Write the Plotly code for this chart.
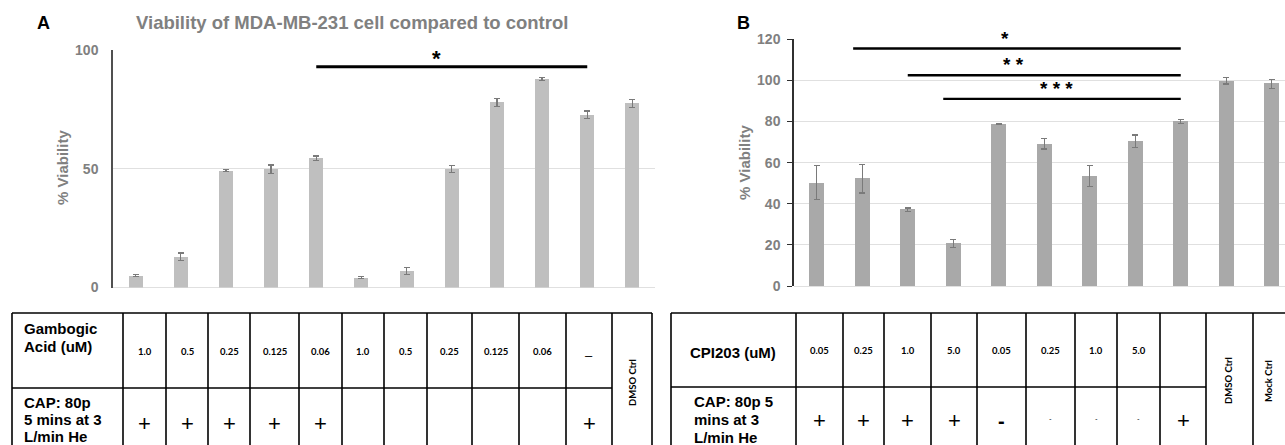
import plotly.graph_objects as go

W, H = 1285, 445

# ---------------- data ----------------
ga_conc = ["1.0", "0.5", "0.25", "0.125", "0.06", "1.0", "0.5", "0.25", "0.125", "0.06", "–"]
ga_cap = ["+", "+", "+", "+", "+", "", "", "", "", "", "+"]
ga_ctrl = ["DMSO Ctrl"]
viab_A = [5.0, 13.0, 49.2, 49.8, 54.4, 4.2, 7.0, 50.0, 78.0, 87.8, 72.8, 77.5]
err_A = [0.5, 1.5, 0.5, 1.8, 1.0, 0.5, 1.5, 1.5, 1.7, 0.5, 1.5, 1.8]

cpi_conc = ["0.05", "0.25", "1.0", "5.0", "0.05", "0.25", "1.0", "5.0", ""]
cpi_cap = ["+", "+", "+", "+", "-", "-", "-", "-", "+"]
cpi_ctrl = ["DMSO Ctrl", "Mock Ctrl"]
viab_B = [50.2, 52.2, 37.1, 20.7, 78.7, 69.1, 53.5, 70.5, 80.0, 99.8, 98.4]
err_B = [8.3, 7.0, 0.8, 2.0, 0.3, 2.5, 5.2, 3.0, 1.1, 1.5, 2.2]

title_A = "Viability of MDA-MB-231 cell compared to control"
y_title = "% Viability"
row_head_A = [["Gambogic", "Acid (uM)"], ["CAP: 80p", "5 mins at 3", "L/min He"]]
row_head_B = [["CPI203 (uM)"], ["CAP: 80p 5", "mins at 3", "L/min He"]]

# significance brackets: (start group, end group, level, label)
sig_A = [(4, 10, 93, "*")]
sig_B = [(0.8, 8, 115.5, "*"), (2, 8, 102.5, "* *"), (2.78, 8, 91, "* * *")]

# ---------------- layout helpers (pixel -> paper) ----------------
def PX(x):
    return x / W

def PY(y):
    return 1 - y / H

SANS = "Liberation Sans, Arial, sans-serif"
SMALL = "Lato, Open Sans, sans-serif"
GREY = "#808080"

# plot-area geometry (pixels)
A_X0, A_X1, A_Y0, A_Y1 = 113, 655, 287.5, 50
B_X0, B_Y0, B_Y1 = 794, 286, 39.3
step_B = 45.5
A_RANGE = [-0.5, 11.5]
B_RANGE = [-0.5, (W - B_X0) / step_B - 0.5]
A_YMAX, B_YMAX = 100, 120

def a_paper(xv, yv):
    px = A_X0 + (xv - A_RANGE[0]) / (A_RANGE[1] - A_RANGE[0]) * (A_X1 - A_X0)
    py = A_Y0 - yv / A_YMAX * (A_Y0 - A_Y1)
    return PX(px), PY(py)

def b_paper(xv, yv):
    px = B_X0 + (xv - B_RANGE[0]) / (B_RANGE[1] - B_RANGE[0]) * (W - B_X0)
    py = B_Y0 - yv / B_YMAX * (B_Y0 - B_Y1)
    return PX(px), PY(py)

fig = go.Figure()

fig.add_trace(go.Bar(
    x=list(range(len(viab_A))), y=viab_A,
    error_y=dict(type="data", array=err_A, color="#7a7a7a", thickness=1.2, width=3),
    marker=dict(color="#BFBFBF", line=dict(width=0)), width=0.31,
    xaxis="x", yaxis="y", showlegend=False, hoverinfo="y"))

fig.add_trace(go.Bar(
    x=list(range(len(viab_B))), y=viab_B,
    error_y=dict(type="data", array=err_B, color="#7a7a7a", thickness=1.2, width=3),
    marker=dict(color="#A9A9A9", line=dict(width=0)), width=0.33,
    xaxis="x2", yaxis="y2", showlegend=False, hoverinfo="y"))

shapes = []
annots = []

# significance bars
for (a, b, lvl, lab) in sig_A:
    shapes.append(dict(type="line", xref="x", yref="y", x0=a, x1=b, y0=lvl, y1=lvl,
                       line=dict(color="black", width=3)))
    sx, sy = a_paper(6.67, lvl + 3.4)
    annots.append(dict(xref="paper", yref="paper", x=sx, y=sy, text="<b>%s</b>" % lab,
                       xanchor="center", yanchor="middle",
                       showarrow=False, font=dict(family=SANS, size=22, color="black")))
star_pos_B = [4.14, 4.33, 5.26]
star_dy_B = [5.0, 5.0, 5.3]
for (a, b, lvl, lab), sxv, dy in zip(sig_B, star_pos_B, star_dy_B):
    shapes.append(dict(type="line", xref="x2", yref="y2", x0=a, x1=b, y0=lvl, y1=lvl,
                       line=dict(color="black", width=2.4)))
    sx, sy = b_paper(sxv, lvl + dy)
    annots.append(dict(xref="paper", yref="paper", x=sx, y=sy, text="<b>%s</b>" % lab,
                       xanchor="center", yanchor="middle",
                       showarrow=False, font=dict(family=SANS, size=19, color="black")))

def ptxt(x, y, s, size, color="black", angle=0):
    annots.append(dict(xref="paper", yref="paper", x=PX(x), y=PY(y), text="<b>%s</b>" % s,
                       xanchor="center", yanchor="middle", textangle=angle,
                       showarrow=False, font=dict(family=SANS, size=size, color=color)))

# panel labels, title, y titles
ptxt(43, 23, "A", 18)
ptxt(743, 23, "B", 18)
ptxt(352, 23, title_A, 18.5, GREY)
ptxt(62, 168, y_title, 15, GREY, -90)
ptxt(744, 163, y_title, 15, GREY, -90)

# ---------------- tables ----------------
LW = 1.6

def hline(x0, x1, y):
    shapes.append(dict(type="line", xref="paper", yref="paper", x0=PX(x0), x1=PX(x1),
                       y0=PY(y), y1=PY(y), line=dict(color="black", width=LW)))

def vline(x, y0, y1):
    shapes.append(dict(type="line", xref="paper", yref="paper", x0=PX(x), x1=PX(x),
                       y0=PY(y0), y1=PY(y1), line=dict(color="black", width=LW)))

def txt(x, y, s, size, family=SANS, bold=True, angle=0, anchor="center"):
    t = "<b>%s</b>" % s if bold else s
    annots.append(dict(xref="paper", yref="paper", x=PX(x), y=PY(y), text=t, textangle=angle,
                       xanchor=anchor, yanchor="middle", showarrow=False,
                       font=dict(family=family, size=size, color="black")))

TOP, BOT = 313, 452

# Table A
edges_A = [12, 123, 166, 208, 250, 299, 342, 384, 427, 472, 519, 566, 612, 652]
mid_A = 388
hline(edges_A[0], edges_A[-1], TOP)
hline(edges_A[0], edges_A[-2], mid_A)
for e in edges_A:
    vline(e, TOP, BOT)
for i, line in enumerate(row_head_A[0]):
    txt(22, 328 + 18 * i, line, 15, anchor="left")
for i, line in enumerate(row_head_A[1]):
    txt(22, 402 + 17 * i, line, 15, anchor="left")
for i, s in enumerate(ga_conc):
    cx = (edges_A[i + 1] + edges_A[i + 2]) / 2
    if s == "–":
        txt(cx, 355, s, 13, family=SANS, bold=False)
    else:
        txt(cx, 351, s, 9.5, family=SMALL)
for i, s in enumerate(ga_cap):
    cx = (edges_A[i + 1] + edges_A[i + 2]) / 2
    if s:
        txt(cx, 423, s, 22, bold=False)
for j, s in enumerate(ga_ctrl):
    cx = (edges_A[-2 - len(ga_ctrl) + 1 + j] + edges_A[-1 - len(ga_ctrl) + 1 + j]) / 2
    txt(cx, 383, s, 9.5, family=SMALL, angle=-90)

# Table B
edges_B = [671, 796, 843, 884, 931, 977, 1026, 1075, 1117, 1160, 1206, 1253, 1300]
mid_B = 387
hline(edges_B[0], edges_B[-1], TOP)
hline(edges_B[0], edges_B[-3], mid_B)
for e in edges_B:
    vline(e, TOP, BOT)
txt((edges_B[0] + edges_B[1]) / 2 - 1, 352, row_head_B[0][0], 15)
for i, line in enumerate(row_head_B[1]):
    txt(692, 401 + 18 * i, line, 15, anchor="left")
for i, s in enumerate(cpi_conc):
    cx = (edges_B[i + 1] + edges_B[i + 2]) / 2
    if s:
        txt(cx, 350, s, 9.5, family=SMALL)
for i, s in enumerate(cpi_cap):
    cx = (edges_B[i + 1] + edges_B[i + 2]) / 2
    if s == "+":
        txt(cx, 420, s, 22, bold=False)
    elif i == 4:
        txt(cx, 421, s, 20)
    else:
        txt(cx, 419, s, 7, family=SMALL, bold=False)
ctrl_x_B = [1228, 1268]
for s, cx in zip(cpi_ctrl, ctrl_x_B):
    txt(cx, 381, s, 9.5, family=SMALL, angle=-90)

# ---------------- axes ----------------
fig.update_layout(
    width=W, height=H, autosize=False,
    margin=dict(l=0, r=0, t=0, b=0, pad=0),
    paper_bgcolor="white", plot_bgcolor="white",
    bargap=0,
    xaxis=dict(domain=[PX(A_X0), PX(A_X1)], range=A_RANGE, showticklabels=False,
               showgrid=False, zeroline=False, showline=False, ticks=""),
    yaxis=dict(domain=[PY(A_Y0), PY(A_Y1)], range=[0, A_YMAX], tickvals=[0, 50, 100],
               showgrid=True, gridcolor="#E0E0E0", gridwidth=1,
               zeroline=True, zerolinecolor="#E0E0E0", zerolinewidth=1,
               showline=True, linecolor="#505050", linewidth=1.5, ticks="",
               ticklabelstandoff=10, automargin=False,
               tickfont=dict(family=SANS, size=14, color=GREY, weight="bold")),
    xaxis2=dict(domain=[PX(B_X0), 1.0], range=B_RANGE,
                showticklabels=False, showgrid=False, zeroline=False, showline=False,
                ticks="", anchor="y2"),
    yaxis2=dict(domain=[PY(B_Y0), PY(B_Y1)], range=[0, B_YMAX], dtick=20,
                showgrid=True, gridcolor="#E0E0E0", gridwidth=1,
                zeroline=True, zerolinecolor="#E0E0E0", zerolinewidth=1,
                showline=True, linecolor="#303030", linewidth=1.5,
                ticks="outside", ticklen=5, tickcolor="#303030", tickwidth=1.2,
                ticklabelstandoff=4, anchor="x2", automargin=False,
                tickfont=dict(family=SANS, size=14, color=GREY, weight="bold")),
    shapes=shapes,
    annotations=annots,
)

fig.write_html(
    "out.html",
    config={"displayModeBar": False},
    post_script="document.body.style.margin='0px';document.body.style.overflow='hidden';",
)
